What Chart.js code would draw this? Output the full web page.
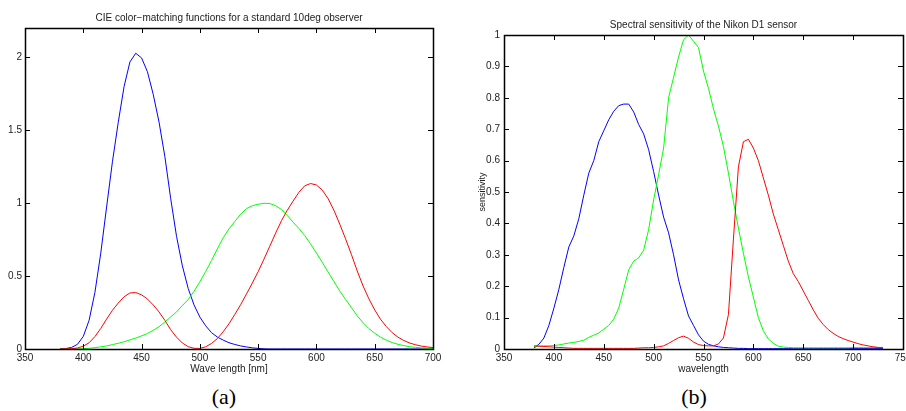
<!DOCTYPE html>
<html>
<head>
<meta charset="utf-8">
<script src="https://cdn.jsdelivr.net/npm/chart.js@4.4.0/dist/chart.umd.min.js"></script>
<style>
  html, body { margin: 0; padding: 0; background: #fff; overflow: hidden; width: 906px; height: 411px; }
  .panel { position: absolute; top: 0; height: 380px; }
  .caption { position: absolute; top: 384px; width: 60px; margin-left: -30px; text-align: center;
             font-family: "Liberation Serif", "DejaVu Serif", serif; font-size: 22px; color: #000; }
</style>
</head>
<body>
<div class="panel" style="left:0; width:453px;"><canvas id="cie"></canvas></div>
<div class="panel" style="left:460px; width:470px;"><canvas id="nikon"></canvas></div>
<div class="caption" style="left:224px;">(a)</div>
<div class="caption" style="left:694px;">(b)</div>
<script>
// (a) CIE 1964 10deg colour-matching functions
const cieWave = [380,385,390,395,400,405,410,415,420,425,430,435,440,445,450,455,460,465,470,475,
  480,485,490,495,500,505,510,515,520,525,530,535,540,545,550,555,560,565,570,575,
  580,585,590,595,600,605,610,615,620,625,630,635,640,645,650,655,660,665,670,675,
  680,685,690,695,700];
const cieX = [0.000,0.001,0.002,0.007,0.019,0.043,0.085,0.141,0.205,0.265,0.315,0.358,0.384,0.387,0.371,0.343,0.302,0.254,0.196,0.132,
  0.081,0.041,0.016,0.005,0.004,0.015,0.038,0.071,0.118,0.173,0.237,0.304,0.377,0.452,0.530,0.616,0.705,0.794,0.879,0.951,
  1.014,1.074,1.119,1.134,1.124,1.089,1.031,0.951,0.856,0.755,0.648,0.535,0.432,0.344,0.268,0.204,0.153,0.112,0.081,0.058,
  0.041,0.029,0.020,0.014,0.010];
const cieY = [0.000,0.000,0.000,0.001,0.002,0.005,0.009,0.015,0.021,0.030,0.039,0.050,0.062,0.075,0.090,0.106,0.128,0.153,0.185,0.220,
  0.254,0.298,0.339,0.395,0.461,0.531,0.607,0.686,0.762,0.823,0.875,0.924,0.962,0.982,0.992,0.999,0.997,0.982,0.956,0.915,
  0.869,0.826,0.777,0.720,0.658,0.594,0.528,0.462,0.398,0.340,0.284,0.228,0.180,0.140,0.108,0.081,0.060,0.044,0.032,0.023,
  0.016,0.011,0.008,0.005,0.004];
const cieZ = [0.001,0.003,0.011,0.032,0.086,0.197,0.389,0.657,0.973,1.283,1.554,1.799,1.967,2.027,1.995,1.901,1.745,1.555,1.318,1.030,
  0.772,0.570,0.415,0.302,0.219,0.159,0.112,0.082,0.061,0.043,0.031,0.021,0.014,0.008,0.004,0.001,0,0,0,0,
  0,0,0,0,0,0,0,0,0,0,0,0,0,0,0,0,0,0,0,0,
  0,0,0,0,0];
const cieXTicks = [350,400,450,500,550,600,650,700];
const cieYTicks = [0,0.5,1,1.5,2];

// (b) Nikon D1 spectral sensitivity
const d1Wave = [380,385,390,395,400,405,410,415,420,425,430,435,440,445,450,455,460,465,470,475,
  480,485,490,495,500,505,510,515,520,525,530,535,540,545,550,555,560,565,570,575,
  580,585,590,595,600,605,610,615,620,625,630,635,640,645,650,655,660,665,670,675,
  680,685,690,695,700,705,710,715,720,725,730];
const d1Red = [0.010,0.009,0.008,0.007,0.006,0.005,0.004,0.003,0.002,0.002,0.002,0.002,0.002,0.002,0.002,0.002,0.002,0.002,0.002,0.002,
  0.002,0.003,0.004,0.004,0.005,0.007,0.010,0.018,0.027,0.036,0.041,0.034,0.022,0.014,0.011,0.010,0.010,0.016,0.035,0.110,
  0.350,0.580,0.660,0.668,0.640,0.600,0.545,0.490,0.430,0.380,0.330,0.280,0.240,0.215,0.185,0.155,0.125,0.098,0.078,0.062,
  0.050,0.040,0.033,0.027,0.022,0.017,0.013,0.010,0.007,0.005,0.004];
const d1Green = [0.008,0.009,0.010,0.010,0.011,0.013,0.016,0.019,0.021,0.024,0.028,0.037,0.044,0.051,0.063,0.075,0.095,0.130,0.190,0.252,
  0.280,0.290,0.315,0.380,0.475,0.555,0.640,0.800,0.865,0.930,0.985,1.000,0.980,0.960,0.885,0.830,0.765,0.710,0.645,0.560,
  0.470,0.385,0.305,0.230,0.165,0.100,0.058,0.032,0.018,0.009,0.006,0.005,0.004,0.004,0.004,0.004,0.004,0.004,0.004,0.004,
  0.004,0.004,0.004,0.004,0.005,0.005,0.005,0.005,0.005,0.005,0.005];
const d1Blue = [0.003,0.015,0.035,0.075,0.130,0.190,0.260,0.325,0.360,0.415,0.490,0.560,0.600,0.660,0.695,0.730,0.757,0.775,0.780,0.780,
  0.755,0.715,0.685,0.635,0.565,0.490,0.420,0.370,0.300,0.220,0.160,0.105,0.075,0.045,0.025,0.015,0.010,0.007,0.005,0.004,
  0.003,0.002,0.002,0.001,0.001,0.001,0.001,0.001,0.001,0.001,0.001,0.001,0.001,0.001,0.001,0.001,0.001,0.001,0.001,0.001,
  0.001,0.001,0.001,0.001,0.001,0.001,0.001,0.001,0.001,0.001,0.001];
const d1XTicks = [350,400,450,500,550,600,650,700,750];
const d1YTicks = [0,0.1,0.2,0.3,0.4,0.5,0.6,0.7,0.8,0.9,1];

const FONT = '"Liberation Sans", Arial, sans-serif';

function pts(xs, ys) {
    return xs.map((x, i) => ({ x: x, y: ys[i] }));
}

function line(data, color) {
    return { data: data, borderColor: color, borderWidth: 1, pointRadius: 0, fill: false, tension: 0 };
}

// matlab style box with ticks pointing inwards, plus titles placed like matlab does
const matlabBox = {
    id: 'matlabBox',
    afterDraw(chart, args, opts) {
        const ctx = chart.ctx;
        const a = chart.chartArea;
        const xs = chart.scales.x, ys = chart.scales.y;
        const len = 5;
        ctx.save();
        ctx.strokeStyle = '#000';
        ctx.lineWidth = 1;
        ctx.beginPath();
        xs.ticks.forEach(t => {
            const px = Math.round(xs.getPixelForValue(t.value)) + 0.5;
            ctx.moveTo(px, a.bottom); ctx.lineTo(px, a.bottom - len);
            ctx.moveTo(px, a.top); ctx.lineTo(px, a.top + len);
        });
        ys.ticks.forEach(t => {
            const py = Math.round(ys.getPixelForValue(t.value)) + 0.5;
            ctx.moveTo(a.left, py); ctx.lineTo(a.left + len, py);
            ctx.moveTo(a.right, py); ctx.lineTo(a.right - len, py);
        });
        ctx.stroke();
        ctx.lineWidth = 1.5;
        ctx.strokeRect(Math.round(a.left) + 0.5, Math.round(a.top) + 0.5, Math.round(a.right - a.left), Math.round(a.bottom - a.top));
        ctx.fillStyle = '#222';
        ctx.font = '10px ' + FONT;
        ctx.textAlign = 'center';
        ctx.textBaseline = 'middle';
        ctx.fillText(opts.text, (a.left + a.right) / 2, opts.y);
        ctx.fillText(opts.xTitle, (a.left + a.right) / 2, opts.xTitleY);
        if (opts.yTitle) {
            ctx.translate(opts.yTitleX, (a.top + a.bottom) / 2);
            ctx.rotate(-Math.PI / 2);
            ctx.font = '9px ' + FONT;
            ctx.fillText(opts.yTitle, 0, 0);
        }
        ctx.restore();
    }
};

function makeChart(id, cfg) {
    return new Chart(document.getElementById(id), {
        type: 'line',
        data: { datasets: cfg.datasets },
        options: {
            responsive: true,
            maintainAspectRatio: false,
            animation: false,
            layout: { padding: { left: 0, right: cfg.padRight, top: cfg.top, bottom: 0 } },
            plugins: {
                legend: { display: false },
                tooltip: { enabled: false },
                matlabBox: { text: cfg.title, y: cfg.titleY, xTitle: cfg.xTitle, xTitleY: 369,
                             yTitle: cfg.yTitle, yTitleX: cfg.yTitleX }
            },
            scales: {
                x: {
                    type: 'linear',
                    min: cfg.xTicks[0],
                    max: cfg.xTicks[cfg.xTicks.length - 1],
                    afterBuildTicks: s => { s.ticks = cfg.xTicks.map(v => ({ value: v })); },
                    afterFit: s => { s.height = cfg.xHeight; },
                    grid: { display: false, drawTicks: false },
                    border: { display: false },
                    ticks: { color: '#222', font: { family: FONT, size: 10 }, padding: 3, maxRotation: 0, autoSkip: false,
                             callback: v => String(v) }
                },
                y: {
                    type: 'linear',
                    min: 0,
                    max: cfg.yMax,
                    afterBuildTicks: s => { s.ticks = cfg.yTicks.map(v => ({ value: v })); },
                    afterFit: s => { s.width = cfg.yWidth; },
                    grid: { display: false, drawTicks: false },
                    border: { display: false },
                    ticks: { color: '#222', font: { family: FONT, size: 10 }, padding: cfg.yPad, autoSkip: false,
                             callback: v => String(Math.round(v * 10) / 10) }
                }
            }
        },
        plugins: [matlabBox]
    });
}

makeChart('cie', {
    datasets: [
        line(pts(cieWave, cieX), '#ff0000'),
        line(pts(cieWave, cieY), '#00ff00'),
        line(pts(cieWave, cieZ), '#0000ff')
    ],
    title: 'CIE color\u2212matching functions for a standard 10deg observer',
    titleY: 18,
    top: 28,
    padRight: 20,
    xHeight: 31,
    yWidth: 25,
    yPad: 3,
    yMax: 2.2,
    xTicks: cieXTicks,
    yTicks: cieYTicks,
    xTitle: 'Wave length [nm]'
});

makeChart('nikon', {
    datasets: [
        line(pts(d1Wave, d1Red), '#ff0000'),
        line(pts(d1Wave, d1Green), '#00ff00'),
        line(pts(d1Wave, d1Blue), '#0000ff')
    ],
    title: 'Spectral sensitivity of the Nikon D1 sensor',
    titleY: 25,
    top: 35,
    padRight: 27,
    xHeight: 31,
    yWidth: 44,
    yPad: 4,
    yMax: 1,
    xTicks: d1XTicks,
    yTicks: d1YTicks,
    xTitle: 'wavelength',
    yTitle: 'sensitivity',
    yTitleX: 23
});
</script>
</body>
</html>
